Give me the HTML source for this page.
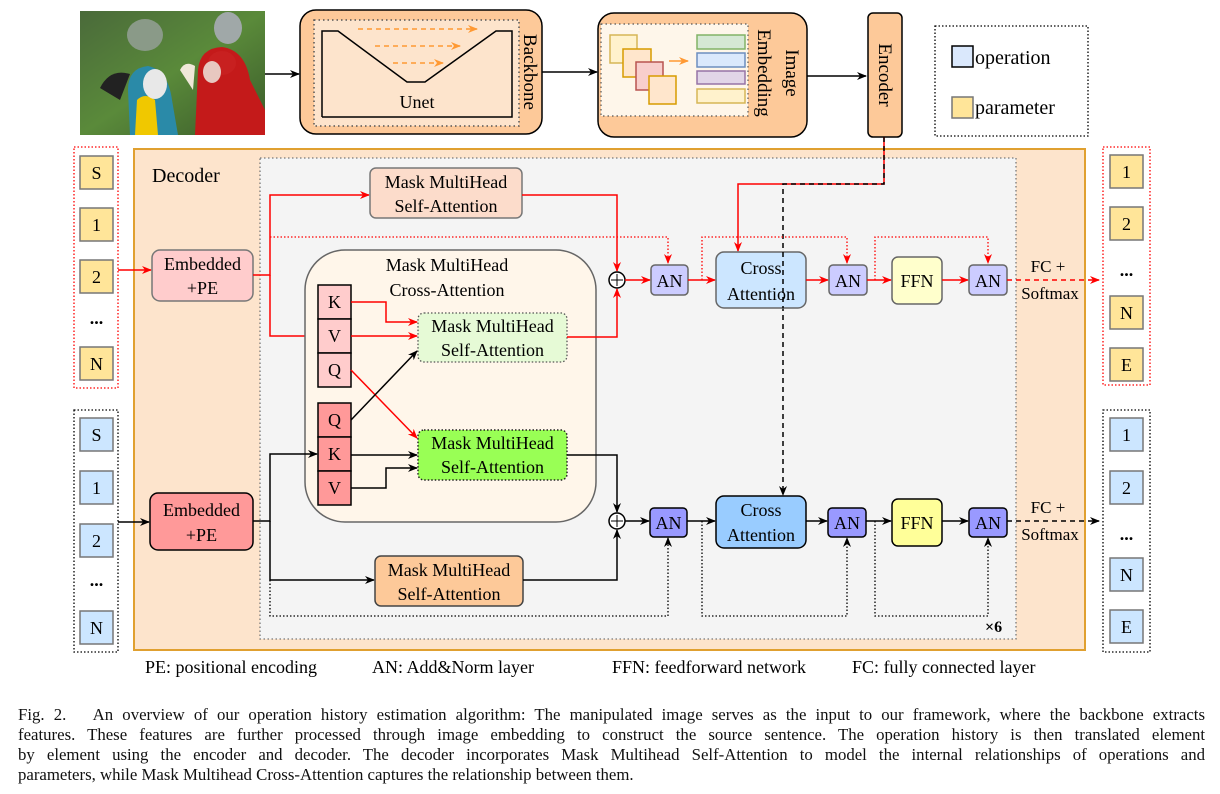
<!DOCTYPE html>
<html><head><meta charset="utf-8"><style>
body{margin:0;background:#fff;}
#w{position:relative;width:1220px;height:794px;overflow:hidden;font-family:"Liberation Serif",serif;}
svg{position:absolute;left:0;top:0;}
#cap{position:absolute;left:18px;top:705px;width:1187px;font-size:16.8px;line-height:20px;color:#111;}
#cap div{white-space:nowrap;text-align:justify;text-align-last:justify;}
#cap div.l{text-align-last:left;}
</style></head><body><div id="w">
<svg width="1220" height="794" viewBox="0 0 1220 794" font-family="Liberation Serif, serif">
<defs>
<marker id="ab" markerWidth="10" markerHeight="8" refX="9" refY="4" orient="auto" markerUnits="userSpaceOnUse"><path d="M0,0 L10,4 L0,8 L3,4z" fill="#000"/></marker>
<marker id="ar" markerWidth="10" markerHeight="8" refX="9" refY="4" orient="auto" markerUnits="userSpaceOnUse"><path d="M0,0 L10,4 L0,8 L3,4z" fill="#f00"/></marker>
<marker id="ao" markerWidth="10" markerHeight="8" refX="9" refY="4" orient="auto" markerUnits="userSpaceOnUse"><path d="M0,0 L10,4 L0,8 L3,4z" fill="#f93"/></marker>
<linearGradient id="bg" x1="0" y1="0" x2="1" y2="1"><stop offset="0" stop-color="#4a6a3a"/><stop offset="0.5" stop-color="#5a8a3a"/><stop offset="1" stop-color="#3a5a2a"/></linearGradient>
</defs>
<rect x="80" y="11" width="185" height="124" fill="url(#bg)"/>
<ellipse cx="145" cy="35" rx="18" ry="16" fill="#8a9a88"/>
<ellipse cx="228" cy="28" rx="14" ry="16" fill="#a0a8a8"/>
<path d="M195,135 L198,70 Q200,48 222,47 Q245,50 250,80 L265,110 L265,135z" fill="#c41a1a"/>
<ellipse cx="222" cy="63" rx="14" ry="12" fill="#c82020"/>
<ellipse cx="212" cy="72" rx="9" ry="11" fill="#e8c8c0"/>
<path d="M180,70 Q185,60 195,66 L193,90z" fill="#f0e8d8"/>
<path d="M130,135 L128,90 Q128,68 148,66 Q168,70 172,100 L178,135z" fill="#2a8aa8"/>
<path d="M135,135 L137,100 Q145,92 155,100 L158,135z" fill="#f0c800"/>
<ellipse cx="155" cy="84" rx="12" ry="15" fill="#e8e8e8"/>
<path d="M100,88 Q110,68 130,74 L120,100z" fill="#222"/>
<path d="M265,74 H299" stroke="#000" stroke-width="1.5" marker-end="url(#ab)"/>
<rect x="300" y="10" width="242" height="124" rx="16" fill="#fdc999" stroke="#000" stroke-width="1.5"/>
<rect x="314" y="20" width="205" height="106" fill="#fde4cc" stroke="#555" stroke-width="1.5" stroke-dasharray="1.5,3"/>
<path d="M322,117 V31 H338 L407,82 H425 L496,31 H512 V117 H322" fill="#fde4cc" stroke="#000" stroke-width="1.5"/>
<path d="M358,29 H477" stroke="#f93" stroke-width="1.5" stroke-dasharray="5,4" marker-end="url(#ao)"/>
<path d="M375,46 H460" stroke="#f93" stroke-width="1.5" stroke-dasharray="5,4" marker-end="url(#ao)"/>
<path d="M393,63 H443" stroke="#f93" stroke-width="1.5" stroke-dasharray="5,4" marker-end="url(#ao)"/>
<text x="417" y="108" font-size="18" text-anchor="middle">Unet</text>
<text transform="translate(524,72) rotate(90)" font-size="19" text-anchor="middle">Backbone</text>
<path d="M542,72 H597" stroke="#000" stroke-width="1.5" marker-end="url(#ab)"/>
<rect x="598" y="13" width="209" height="124" rx="16" fill="#fdc999" stroke="#000" stroke-width="1.5"/>
<rect x="601" y="24" width="147" height="92" fill="#fef6ea" stroke="#555" stroke-width="1.2" stroke-dasharray="1.5,3"/>
<rect x="610" y="35" width="27" height="28" fill="#fff2cc" stroke="#d6b656" stroke-width="1.5"/>
<rect x="623" y="49" width="28" height="28" fill="#ffe6cc" stroke="#d79b00" stroke-width="1.5"/>
<rect x="636" y="62" width="27" height="28" fill="#f8cecc" stroke="#b85450" stroke-width="1.5"/>
<rect x="649" y="76" width="27" height="28" fill="#ffe6cc" stroke="#d79b00" stroke-width="1.5"/>
<path d="M669,61 H688" stroke="#f93" stroke-width="1.5" marker-end="url(#ao)"/>
<rect x="697" y="35" width="48" height="14" fill="#d5e8d4" stroke="#82b366" stroke-width="1.5"/>
<rect x="697" y="53" width="48" height="14" fill="#dae8fc" stroke="#6c8ebf" stroke-width="1.5"/>
<rect x="697" y="71" width="48" height="13" fill="#e1d5e7" stroke="#9673a6" stroke-width="1.5"/>
<rect x="697" y="89" width="48" height="14" fill="#fff2cc" stroke="#d6b656" stroke-width="1.5"/>
<text transform="translate(786,73) rotate(90)" font-size="19" text-anchor="middle">Image</text>
<text transform="translate(758,73) rotate(90)" font-size="19" text-anchor="middle">Embedding</text>
<path d="M807,76 H866" stroke="#000" stroke-width="1.5" marker-end="url(#ab)"/>
<rect x="868" y="13" width="34" height="124" rx="5" fill="#fdc999" stroke="#000" stroke-width="1.5"/>
<text transform="translate(879,75) rotate(90)" font-size="19" text-anchor="middle">Encoder</text>
<rect x="935" y="26" width="153" height="110" fill="none" stroke="#000" stroke-width="1.3" stroke-dasharray="1.5,2"/>
<rect x="952" y="46" width="21" height="21" fill="#dae8fc" stroke="#000" stroke-width="1.5"/>
<text x="975" y="64" font-size="20">operation</text>
<rect x="952" y="97" width="21" height="21" fill="#ffe599" stroke="#777" stroke-width="1.5"/>
<text x="975" y="114" font-size="20">parameter</text>
<rect x="134" y="149" width="951" height="501" fill="#fde4cc" stroke="#e0a030" stroke-width="2"/>
<text x="152" y="182" font-size="20">Decoder</text>
<rect x="260" y="158" width="756" height="481" fill="#f4f4f4" stroke="#777" stroke-width="1.3" stroke-dasharray="1.5,2.5"/>
<rect x="74" y="147" width="44" height="241" fill="none" stroke="#f00" stroke-width="1.3" stroke-dasharray="1.5,2"/>
<g font-size="18" text-anchor="middle" stroke-width="1.5">
<rect x="80" y="156" width="33" height="33" fill="#ffe599" stroke="#777"/><text x="96.5" y="179">S</text>
<rect x="80" y="208" width="33" height="33" fill="#ffe599" stroke="#777"/><text x="96.5" y="231">1</text>
<rect x="80" y="260" width="33" height="33" fill="#ffe599" stroke="#777"/><text x="96.5" y="283">2</text>
<text x="96.5" y="324" font-weight="bold">...</text>
<rect x="80" y="347" width="33" height="33" fill="#ffe599" stroke="#777"/><text x="96.5" y="370">N</text>
</g>
<rect x="74" y="410" width="44" height="242" fill="none" stroke="#000" stroke-width="1.3" stroke-dasharray="1.5,2"/>
<g font-size="18" text-anchor="middle" stroke-width="1.5">
<rect x="80" y="418" width="33" height="33" fill="#cce6ff" stroke="#777"/><text x="96.5" y="441">S</text>
<rect x="80" y="471" width="33" height="33" fill="#cce6ff" stroke="#777"/><text x="96.5" y="494">1</text>
<rect x="80" y="524" width="33" height="33" fill="#cce6ff" stroke="#777"/><text x="96.5" y="547">2</text>
<text x="96.5" y="586" font-weight="bold">...</text>
<rect x="80" y="611" width="33" height="33" fill="#cce6ff" stroke="#777"/><text x="96.5" y="634">N</text>
</g>
<rect x="1103" y="147" width="47" height="238" fill="none" stroke="#f00" stroke-width="1.3" stroke-dasharray="1.5,2"/>
<g font-size="18" text-anchor="middle" stroke-width="1.5">
<rect x="1110" y="155" width="33" height="33" fill="#ffe599" stroke="#777"/><text x="1126.5" y="178">1</text>
<rect x="1110" y="207" width="33" height="33" fill="#ffe599" stroke="#777"/><text x="1126.5" y="230">2</text>
<text x="1126.5" y="276" font-weight="bold">...</text>
<rect x="1110" y="296" width="33" height="33" fill="#ffe599" stroke="#777"/><text x="1126.5" y="319">N</text>
<rect x="1110" y="348" width="33" height="33" fill="#ffe599" stroke="#777"/><text x="1126.5" y="371">E</text>
</g>
<rect x="1103" y="410" width="47" height="242" fill="none" stroke="#000" stroke-width="1.3" stroke-dasharray="1.5,2"/>
<g font-size="18" text-anchor="middle" stroke-width="1.5">
<rect x="1110" y="418" width="33" height="33" fill="#cce6ff" stroke="#777"/><text x="1126.5" y="441">1</text>
<rect x="1110" y="471" width="33" height="33" fill="#cce6ff" stroke="#777"/><text x="1126.5" y="494">2</text>
<text x="1126.5" y="540" font-weight="bold">...</text>
<rect x="1110" y="558" width="33" height="33" fill="#cce6ff" stroke="#777"/><text x="1126.5" y="581">N</text>
<rect x="1110" y="610" width="33" height="33" fill="#cce6ff" stroke="#777"/><text x="1126.5" y="633">E</text>
</g>
<path d="M118,270 H151" stroke="#f00" stroke-width="1.5" marker-end="url(#ar)"/>
<path d="M118,522 H149" stroke="#000" stroke-width="1.5" marker-end="url(#ab)"/>
<rect x="152" y="250" width="101" height="51" rx="8" fill="#ffcccc" stroke="#777" stroke-width="1.5"/>
<text x="202.5" y="270" font-size="18" text-anchor="middle">Embedded</text><text x="202.5" y="294" font-size="18" text-anchor="middle">+PE</text>
<rect x="150" y="493" width="103" height="57" rx="8" fill="#ff9999" stroke="#000" stroke-width="1.5"/>
<text x="201.5" y="516" font-size="18" text-anchor="middle">Embedded</text><text x="201.5" y="541" font-size="18" text-anchor="middle">+PE</text>
<path d="M253,275 H270 V195 H369" stroke="#f00" stroke-width="1.5" fill="none" marker-end="url(#ar)"/>
<path d="M270,275 V336 H317" stroke="#f00" stroke-width="1.5" fill="none" marker-end="url(#ar)"/>
<path d="M270,237 H668 V263" stroke="#f00" stroke-width="1.3" fill="none" stroke-dasharray="1.5,2" marker-end="url(#ar)"/>
<rect x="370" y="168" width="152" height="50" rx="6" fill="#fcdccb" stroke="#777" stroke-width="1.5"/>
<text x="446" y="188" font-size="18" text-anchor="middle">Mask MultiHead</text><text x="446" y="212" font-size="18" text-anchor="middle">Self-Attention</text>
<path d="M522,195 H617 V271" stroke="#f00" stroke-width="1.5" fill="none" marker-end="url(#ar)"/>
<rect x="305" y="250" width="291" height="272" rx="40" fill="#fff6ea" stroke="#666" stroke-width="1.5"/>
<text x="447" y="271" font-size="18" text-anchor="middle">Mask MultiHead</text>
<text x="447" y="296" font-size="18" text-anchor="middle">Cross-Attention</text>
<g font-size="18" text-anchor="middle" stroke="#000" stroke-width="1.5">
<rect x="318" y="285" width="33" height="34" fill="#ffcccc"/><rect x="318" y="319" width="33" height="34" fill="#ffcccc"/><rect x="318" y="353" width="33" height="34" fill="#ffcccc"/>
<rect x="318" y="403" width="33" height="34" fill="#ff9999"/><rect x="318" y="437" width="33" height="34" fill="#ff9999"/><rect x="318" y="471" width="33" height="34" fill="#ff9999"/>
</g>
<g font-size="18" text-anchor="middle">
<text x="334.5" y="308">K</text><text x="334.5" y="342">V</text><text x="334.5" y="376">Q</text>
<text x="334.5" y="426">Q</text><text x="334.5" y="460">K</text><text x="334.5" y="494">V</text>
</g>
<rect x="418" y="313" width="149" height="49" rx="6" fill="#e6fad6" stroke="#555" stroke-width="1.3" stroke-dasharray="1.5,2"/>
<text x="492.5" y="332" font-size="18" text-anchor="middle">Mask MultiHead</text><text x="492.5" y="356" font-size="18" text-anchor="middle">Self-Attention</text>
<rect x="418" y="430" width="149" height="50" rx="6" fill="#99ff55" stroke="#222" stroke-width="1.5" stroke-dasharray="1.5,2"/>
<text x="492.5" y="449" font-size="18" text-anchor="middle">Mask MultiHead</text><text x="492.5" y="473" font-size="18" text-anchor="middle">Self-Attention</text>
<path d="M351,302 H386 V322 H417" stroke="#f00" stroke-width="1.5" fill="none" marker-end="url(#ar)"/>
<path d="M351,336 H417" stroke="#f00" stroke-width="1.5" fill="none" marker-end="url(#ar)"/>
<path d="M351,370 L417,438" stroke="#f00" stroke-width="1.5" fill="none" marker-end="url(#ar)"/>
<path d="M351,420 L417,351" stroke="#000" stroke-width="1.5" fill="none" marker-end="url(#ab)"/>
<path d="M351,455 H417" stroke="#000" stroke-width="1.5" fill="none" marker-end="url(#ab)"/>
<path d="M351,488 H386 V468 H417" stroke="#000" stroke-width="1.5" fill="none" marker-end="url(#ab)"/>
<path d="M567,337 H617 V289" stroke="#f00" stroke-width="1.5" fill="none" marker-end="url(#ar)"/>
<path d="M567,455 H617 V512" stroke="#000" stroke-width="1.5" fill="none" marker-end="url(#ab)"/>
<path d="M253,521 H270 V454 H317" stroke="#000" stroke-width="1.5" fill="none" marker-end="url(#ab)"/>
<path d="M270,521 V580 H374" stroke="#000" stroke-width="1.5" fill="none" marker-end="url(#ab)"/>
<rect x="375" y="556" width="148" height="50" rx="6" fill="#fdc999" stroke="#444" stroke-width="1.5"/>
<text x="449" y="576" font-size="18" text-anchor="middle">Mask MultiHead</text><text x="449" y="600" font-size="18" text-anchor="middle">Self-Attention</text>
<path d="M523,580 H617 V530" stroke="#000" stroke-width="1.5" fill="none" marker-end="url(#ab)"/>
<path d="M270,580 V616 H668 V538" stroke="#000" stroke-width="1.3" fill="none" stroke-dasharray="1.5,2" marker-end="url(#ab)"/>
<circle cx="617" cy="280" r="8" fill="#fff" stroke="#000" stroke-width="1.5"/><path d="M611,280 H623 M617,274 V286" stroke="#000"/>
<circle cx="617" cy="521" r="8" fill="#fff" stroke="#000" stroke-width="1.5"/><path d="M611,521 H623 M617,515 V527" stroke="#000"/>
<path d="M884,137 V184 H738 V251" stroke="#f00" stroke-width="1.5" fill="none" marker-end="url(#ar)"/>
<path d="M884,137 V184 H783 V495" stroke="#000" stroke-width="1.5" fill="none" stroke-dasharray="5,4" marker-end="url(#ab)"/>
<path d="M625,280 H650" stroke="#f00" stroke-width="1.5" marker-end="url(#ar)"/>
<rect x="651" y="265" width="37" height="30" rx="4" fill="#ccccff" stroke="#666" stroke-width="1.5"/>
<text x="669.5" y="287" font-size="18" text-anchor="middle">AN</text>
<path d="M688,280 H715" stroke="#f00" stroke-width="1.5" marker-end="url(#ar)"/>
<path d="M702,280 V237 H847 V263" stroke="#f00" stroke-width="1.3" fill="none" stroke-dasharray="1.5,2" marker-end="url(#ar)"/>
<rect x="716" y="252" width="90" height="56" rx="8" fill="#cce6ff" stroke="#666" stroke-width="1.5"/>
<text x="761" y="274" font-size="18" text-anchor="middle">Cross</text><text x="761" y="300" font-size="18" text-anchor="middle">Attention</text>
<path d="M783,252 V308" stroke="#000" stroke-width="1.5" stroke-dasharray="5,4"/>
<path d="M806,280 H828" stroke="#f00" stroke-width="1.5" marker-end="url(#ar)"/>
<rect x="829" y="265" width="38" height="30" rx="4" fill="#ccccff" stroke="#666" stroke-width="1.5"/>
<text x="848" y="287" font-size="18" text-anchor="middle">AN</text>
<path d="M867,280 H891" stroke="#f00" stroke-width="1.5" marker-end="url(#ar)"/>
<path d="M875,280 V237 H988 V263" stroke="#f00" stroke-width="1.3" fill="none" stroke-dasharray="1.5,2" marker-end="url(#ar)"/>
<rect x="892" y="257" width="50" height="47" rx="6" fill="#ffffcc" stroke="#666" stroke-width="1.5"/>
<text x="917" y="287" font-size="18" text-anchor="middle">FFN</text>
<path d="M942,280 H968" stroke="#f00" stroke-width="1.5" marker-end="url(#ar)"/>
<rect x="969" y="265" width="38" height="30" rx="4" fill="#ccccff" stroke="#666" stroke-width="1.5"/>
<text x="988" y="287" font-size="18" text-anchor="middle">AN</text>
<path d="M1007,280 H1099" stroke="#f00" stroke-width="1.5" stroke-dasharray="5,4" marker-end="url(#ar)"/>
<text x="1048" y="272" font-size="17" text-anchor="middle">FC +</text><text x="1050" y="299" font-size="17" text-anchor="middle">Softmax</text>
<path d="M625,521 H649" stroke="#000" stroke-width="1.5" marker-end="url(#ab)"/>
<rect x="650" y="508" width="37" height="29" rx="4" fill="#9999ff" stroke="#000" stroke-width="1.5"/>
<text x="668.5" y="529" font-size="18" text-anchor="middle">AN</text>
<path d="M687,521 H715" stroke="#000" stroke-width="1.5" marker-end="url(#ab)"/>
<path d="M702,521 V616 H847 V538" stroke="#000" stroke-width="1.3" fill="none" stroke-dasharray="1.5,2" marker-end="url(#ab)"/>
<rect x="716" y="496" width="90" height="52" rx="8" fill="#99ccff" stroke="#000" stroke-width="1.5"/>
<text x="761" y="516" font-size="18" text-anchor="middle">Cross</text><text x="761" y="541" font-size="18" text-anchor="middle">Attention</text>
<path d="M806,521 H827" stroke="#000" stroke-width="1.5" marker-end="url(#ab)"/>
<rect x="828" y="508" width="38" height="29" rx="4" fill="#9999ff" stroke="#000" stroke-width="1.5"/>
<text x="847" y="529" font-size="18" text-anchor="middle">AN</text>
<path d="M866,521 H891" stroke="#000" stroke-width="1.5" marker-end="url(#ab)"/>
<path d="M875,521 V616 H988 V538" stroke="#000" stroke-width="1.3" fill="none" stroke-dasharray="1.5,2" marker-end="url(#ab)"/>
<rect x="892" y="499" width="50" height="47" rx="6" fill="#ffff99" stroke="#000" stroke-width="1.5"/>
<text x="917" y="529" font-size="18" text-anchor="middle">FFN</text>
<path d="M942,521 H968" stroke="#000" stroke-width="1.5" marker-end="url(#ab)"/>
<rect x="969" y="508" width="38" height="29" rx="4" fill="#9999ff" stroke="#000" stroke-width="1.5"/>
<text x="988" y="529" font-size="18" text-anchor="middle">AN</text>
<path d="M1007,521 H1099" stroke="#000" stroke-width="1.5" stroke-dasharray="5,4" marker-end="url(#ab)"/>
<text x="1048" y="513" font-size="17" text-anchor="middle">FC +</text><text x="1050" y="540" font-size="17" text-anchor="middle">Softmax</text>
<text x="985" y="632" font-size="16" font-weight="bold">×6</text>
<g font-size="18">
<text x="145" y="673">PE: positional encoding</text>
<text x="372" y="673">AN: Add&amp;Norm layer</text>
<text x="612" y="673">FFN: feedforward network</text>
<text x="852" y="673">FC: fully connected layer</text>
</g>
</svg>
<div id="cap">
<div>Fig. 2.&nbsp;&nbsp; An overview of our operation history estimation algorithm: The manipulated image serves as the input to our framework, where the backbone extracts</div>
<div>features. These features are further processed through image embedding to construct the source sentence. The operation history is then translated element</div>
<div>by element using the encoder and decoder. The decoder incorporates Mask Multihead Self-Attention to model the internal relationships of operations and</div>
<div class="l">parameters, while Mask Multihead Cross-Attention captures the relationship between them.</div>
</div>
</div></body></html>
